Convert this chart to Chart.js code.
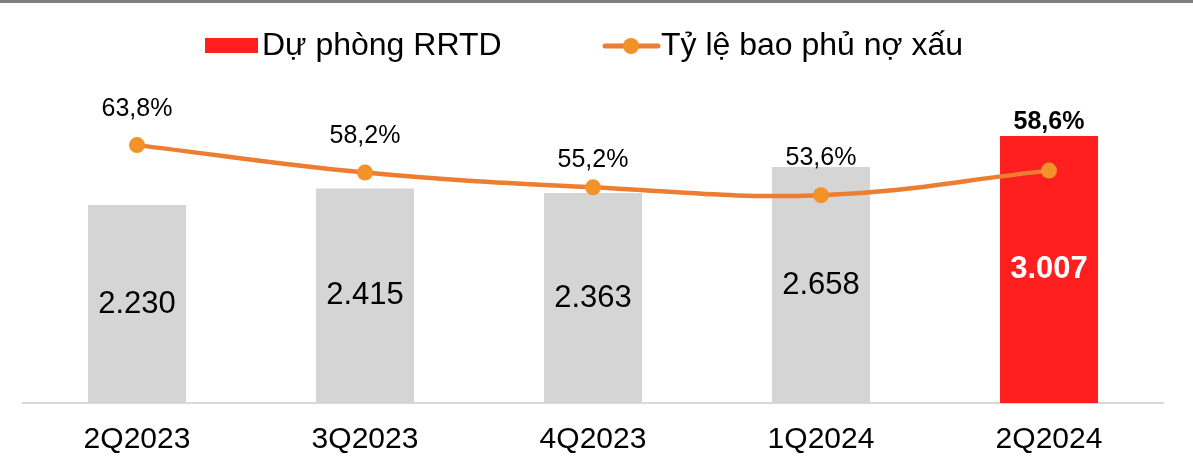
<!DOCTYPE html>
<html>
<head>
<meta charset="utf-8">
<script src="https://cdn.jsdelivr.net/npm/chart.js@4"></script>
<style>
  html, body { margin: 0; padding: 0; background: #fff; }
  #wrap { position: relative; width: 1193px; height: 461px; }
</style>
</head>
<body>
<div id="wrap"><canvas id="c"></canvas></div>
<script>
const categories = ['2Q2023', '3Q2023', '4Q2023', '1Q2024', '2Q2024'];
const provisions = [2230, 2415, 2363, 2658, 3007];
const coverageRatio = [63.8, 58.2, 55.2, 53.6, 58.6];
const seriesNames = ['Dự phòng RRTD', 'Tỷ lệ bao phủ nợ xấu'];

const GRAY = '#D6D5D6', RED = '#FF1F1F', LINE = '#ED7D31', DOT = '#F39229';
const FONT = '"Liberation Sans", Arial, sans-serif';

const fmtInt = v => v.toString().replace(/\B(?=(\d{3})+(?!\d))/g, '.');
const fmtPct = v => v.toFixed(1).replace('.', ',') + '%';

const labelPlugin = {
  id: 'labels',
  afterDatasetsDraw(chart) {
    const ctx = chart.ctx;
    const barMeta = chart.getDatasetMeta(1);
    const lineMeta = chart.getDatasetMeta(0);
    const last = provisions.length - 1;
    ctx.save();
    ctx.textAlign = 'center';
    ctx.textBaseline = 'middle';
    barMeta.data.forEach((el, i) => {
      ctx.font = (i === last ? 'bold ' : '') + '31px ' + FONT;
      ctx.fillStyle = i === last ? '#FFFFFF' : '#000000';
      ctx.fillText(fmtInt(provisions[i]), el.x, (el.y + el.base) / 2);
    });
    const offs = [36, 36, 27, 37, 0];
    lineMeta.data.forEach((el, i) => {
      ctx.fillStyle = '#000';
      if (i === last) {
        ctx.font = 'bold 25px ' + FONT;
        ctx.fillText(fmtPct(coverageRatio[i]), el.x, barMeta.data[i].y - 14);
      } else {
        ctx.font = '25px ' + FONT;
        ctx.fillText(fmtPct(coverageRatio[i]), el.x, el.y - offs[i]);
      }
    });
    ctx.restore();
  },
  afterDraw(chart) {
    const ctx = chart.ctx;
    ctx.save();
    ctx.fillStyle = '#7F7F7F';
    ctx.fillRect(0, 0, chart.width, 3);
    ctx.textBaseline = 'middle';
    ctx.textAlign = 'left';
    ctx.font = '32px ' + FONT;
    ctx.fillStyle = RED;
    ctx.fillRect(205, 38, 53, 15);
    ctx.fillStyle = '#000';
    ctx.fillText(seriesNames[0], 262, 46);
    ctx.strokeStyle = LINE;
    ctx.lineWidth = 5;
    ctx.lineCap = 'round';
    ctx.beginPath(); ctx.moveTo(605, 46); ctx.lineTo(658, 46); ctx.stroke();
    ctx.fillStyle = DOT;
    ctx.beginPath(); ctx.arc(631, 46, 8, 0, Math.PI * 2); ctx.fill();
    ctx.fillStyle = '#000';
    ctx.fillText(seriesNames[1], 661, 46);
    ctx.restore();
  }
};

new Chart(document.getElementById('c'), {
  data: {
    labels: categories,
    datasets: [
      {
        type: 'line',
        label: seriesNames[1],
        data: coverageRatio,
        yAxisID: 'y2',
        borderColor: LINE,
        borderWidth: 4.5,
        tension: 0.4,
        pointRadius: 8,
        pointHoverRadius: 8,
        pointBackgroundColor: DOT,
        pointBorderWidth: 0,
        order: 0
      },
      {
        type: 'bar',
        label: seriesNames[0],
        data: provisions,
        yAxisID: 'y',
        backgroundColor: provisions.map((v, i) => i === provisions.length - 1 ? RED : GRAY),
        categoryPercentage: 1,
        barPercentage: 0.43,
        order: 1
      }
    ]
  },
  options: {
    responsive: true,
    maintainAspectRatio: false,
    animation: false,
    devicePixelRatio: 1,
    layout: { padding: { top: 101, left: 23, right: 30, bottom: -16 } },
    plugins: { legend: { display: false }, tooltip: { enabled: false } },
    scales: {
      x: {
        grid: { display: false, drawTicks: false },
        border: { display: true, color: '#D9D9D9', width: 2 },
        ticks: { color: '#000', font: { family: FONT, size: 30 }, padding: 19, maxRotation: 0 }
      },
      y: { display: false, min: 0, max: 3400 },
      y2: { display: false, min: 11.2, max: 72.8 }
    }
  },
  plugins: [labelPlugin]
});
</script>
</body>
</html>
